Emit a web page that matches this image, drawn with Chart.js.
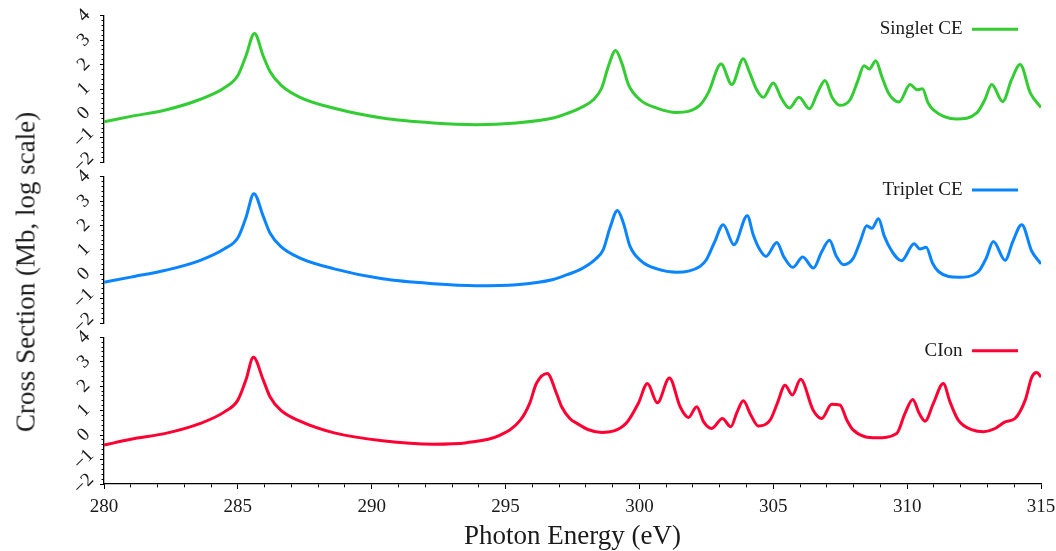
<!DOCTYPE html>
<html>
<head>
<meta charset="utf-8">
<script src="https://cdn.jsdelivr.net/npm/chart.js@4.4.1/dist/chart.umd.min.js"></script>
<style>
  html, body { margin: 0; padding: 0; background: #fff; }
  #wrap { position: relative; width: 1056px; height: 551px; }
  #wrap canvas { position: absolute; left: 0; top: 0; }
  #ytitle {
    position: absolute; left: 26px; top: 272px;
    transform: translate(-50%, -50%) rotate(-90deg);
    font: 27px 'Liberation Serif', serif; color: #1a1a1a; white-space: nowrap;
  }
</style>
</head>
<body>
<div id="wrap">
  <canvas id="singlet" width="1056" height="551"></canvas>
  <canvas id="triplet" width="1056" height="551"></canvas>
  <canvas id="cion" width="1056" height="551"></canvas>
  <div id="ytitle">Cross Section (Mb, log scale)</div>
</div>
<script>
// values (log10 of cross section)
const singletEnergy = [280.0, 281.0, 282.3, 283.6, 284.5, 285.0, 285.3, 285.62, 285.95, 286.2, 286.6, 287.3, 288.6, 290.4, 292.3, 293.9, 295.4, 296.78, 297.3, 297.78, 298.28, 298.59, 298.84, 299.11, 299.34, 299.59, 300.02, 300.65, 301.39, 302.26, 302.57, 303.05, 303.45, 303.88, 304.1, 304.38, 304.63, 305.0, 305.3, 305.6, 305.96, 306.35, 306.65, 306.93, 307.2, 307.49, 307.87, 308.15, 308.39, 308.59, 308.83, 309.05, 309.3, 309.7, 310.11, 310.38, 310.57, 310.78, 310.98, 311.85, 312.6, 312.9, 313.16, 313.57, 313.9, 314.22, 314.6, 315.0];
const singletValue = [-0.34, -0.12, 0.14, 0.58, 1.05, 1.55, 2.35, 3.27, 2.34, 1.72, 1.17, 0.67, 0.21, -0.19, -0.39, -0.46, -0.39, -0.19, 0.0, 0.22, 0.56, 1.04, 1.93, 2.58, 2.07, 1.18, 0.56, 0.22, 0.04, 0.34, 0.84, 2.02, 1.18, 2.24, 1.72, 0.97, 0.66, 1.25, 0.63, 0.22, 0.66, 0.19, 0.84, 1.35, 0.65, 0.33, 0.56, 1.31, 1.95, 1.82, 2.16, 1.52, 0.84, 0.47, 1.18, 0.97, 1.01, 0.44, 0.15, -0.23, 0.02, 0.56, 1.18, 0.49, 1.38, 2.00, 0.84, 0.24];

const tripletEnergy = [280.0, 281.0, 282.3, 283.6, 284.5, 285.0, 285.3, 285.6, 285.95, 286.2, 286.6, 287.3, 288.6, 290.4, 292.3, 293.9, 295.4, 296.78, 297.3, 297.78, 298.34, 298.65, 298.9, 299.18, 299.4, 299.65, 300.08, 300.65, 301.39, 302.26, 302.5, 302.8, 303.13, 303.53, 304.03, 304.25, 304.5, 304.73, 305.13, 305.4, 305.73, 306.1, 306.5, 306.8, 307.1, 307.35, 307.62, 307.99, 308.25, 308.49, 308.68, 308.93, 309.15, 309.42, 309.79, 310.26, 310.48, 310.71, 310.95, 311.17, 311.92, 312.66, 312.95, 313.22, 313.66, 313.95, 314.28, 314.65, 315.0];
const tripletValue = [-0.33, -0.12, 0.16, 0.57, 1.04, 1.49, 2.31, 3.30, 2.37, 1.69, 1.14, 0.67, 0.22, -0.19, -0.39, -0.47, -0.43, -0.22, -0.02, 0.19, 0.60, 1.01, 1.90, 2.61, 2.10, 1.14, 0.53, 0.22, 0.08, 0.32, 0.59, 1.30, 2.03, 1.21, 2.40, 1.62, 1.00, 0.73, 1.30, 0.70, 0.28, 0.70, 0.25, 0.90, 1.39, 0.75, 0.39, 0.66, 1.35, 1.99, 1.88, 2.27, 1.55, 0.96, 0.55, 1.25, 1.03, 1.10, 0.45, 0.11, -0.13, 0.11, 0.65, 1.34, 0.57, 1.35, 2.03, 0.95, 0.42];

const cionEnergy = [280.0, 281.0, 282.3, 283.6, 284.5, 285.0, 285.3, 285.58, 285.95, 286.2, 286.6, 287.3, 288.6, 290.4, 292.3, 293.55, 294.8, 295.55, 295.9, 296.15, 296.56, 296.9, 297.1, 297.4, 297.7, 298.1, 298.6, 299.5, 299.96, 300.3, 300.67, 301.12, 301.52, 301.83, 302.14, 302.4, 302.7, 303.1, 303.41, 303.65, 303.88, 304.16, 304.44, 304.88, 305.15, 305.44, 305.71, 306.02, 306.49, 306.81, 307.18, 307.49, 307.75, 307.99, 308.86, 309.61, 309.92, 310.21, 310.45, 310.67, 310.98, 311.35, 311.6, 311.91, 312.47, 312.85, 313.28, 313.66, 314.03, 314.41, 314.66, 314.84, 315.0];
const cionValue = [-0.41, -0.17, 0.07, 0.48, 0.95, 1.43, 2.25, 3.18, 2.25, 1.57, 1.02, 0.58, 0.09, -0.23, -0.37, -0.31, 0.00, 0.61, 1.30, 2.11, 2.52, 1.71, 1.15, 0.68, 0.46, 0.22, 0.11, 0.48, 1.30, 2.11, 1.32, 2.34, 1.16, 0.72, 1.16, 0.54, 0.27, 0.68, 0.34, 0.95, 1.40, 0.82, 0.37, 0.61, 1.30, 2.04, 1.64, 2.28, 1.02, 0.68, 1.26, 1.23, 0.61, 0.20, -0.11, 0.07, 0.89, 1.46, 0.89, 0.57, 1.30, 2.11, 1.36, 0.61, 0.20, 0.14, 0.27, 0.54, 0.68, 1.43, 2.38, 2.56, 2.38];

const yMin = -2, yMax = 4;
const xMin = 280, xMax = 315;

Chart.defaults.font.family = "'Liberation Serif', serif";
Chart.defaults.font.size = 19;
Chart.defaults.color = '#1a1a1a';

const isWhole = v => Math.abs(v - Math.round(v)) < 1e-6;
const minus = v => (v < 0 ? '\u2212' + (-v) : String(v));

// move the legend into the top right corner of each panel
const legendCorner = {
  id: 'legendCorner',
  afterLayout(chart) {
    const lg = chart.legend, a = chart.chartArea;
    const pad = lg.options.labels.padding;
    lg.left = a.left;
    lg.width = a.right - 23 + pad - a.left;
    lg.right = lg.left + lg.width;
    lg.top = a.top;
    lg.bottom = a.bottom;
    lg.height = a.bottom - a.top;
  }
};

function makePanel(id, label, energy, value, color, padTop, padBottom, showX) {
  const ctx = document.getElementById(id).getContext('2d');
  return new Chart(ctx, {
    type: 'line',
    data: {
      datasets: [{
        label: label,
        data: energy.map((e, i) => ({ x: e, y: value[i] })),
        borderColor: color,
        backgroundColor: color,
        borderWidth: 3,
        pointRadius: 0,
        cubicInterpolationMode: 'monotone',
        fill: false
      }]
    },
    options: {
      responsive: false,
      animation: false,
      events: [],
      layout: { padding: { left: 0, right: 15, top: padTop, bottom: padBottom } },
      plugins: {
        tooltip: { enabled: false },
        legend: {
          position: 'chartArea',
          align: 'start',
          rtl: true,
          textDirection: 'ltr',
          labels: { usePointStyle: true, pointStyle: 'line', pointStyleWidth: 46, padding: 4, font: { size: 19 } }
        }
      },
      scales: {
        x: {
          type: 'linear', min: xMin, max: xMax, display: showX,
          ticks: {
            stepSize: 1, autoSkip: false, minRotation: 0, maxRotation: 0, padding: 7,
            callback: v => (v % 5 === 0 ? String(v) : '')
          },
          grid: {
            drawOnChartArea: false, tickLength: 5, tickColor: '#000', tickWidth: 1,
            tickBorderDash: c => (c.tick && c.tick.value % 5 === 0 ? [] : [3, 10])
          },
          border: { color: '#000', width: 1.3 },
          title: { display: true, text: 'Photon Energy (eV)', font: { size: 27 }, padding: { top: 0, bottom: -2 } },
          afterFit: s => {
            if (!showX) return;
            s.height = 67; s.paddingLeft = 0; s.paddingRight = 0;
          }
        },
        y: {
          min: yMin, max: yMax,
          ticks: {
            stepSize: 0.2, autoSkip: false, minRotation: 45, maxRotation: 45,
            crossAlign: 'center', padding: 6,
            callback: v => (isWhole(v) ? minus(Math.round(v)) : '')
          },
          grid: {
            drawOnChartArea: false, tickLength: 4, tickColor: '#000', tickWidth: 1,
            tickBorderDash: c => (c.tick && isWhole(c.tick.value) ? [] : [2.5, 10]),
            tickBorderDashOffset: c => (c.tick && isWhole(c.tick.value) ? 0 : -1.5)
          },
          border: { color: '#000', width: 1.3 },
          afterFit: s => { s.width = 104; s.paddingTop = 0; s.paddingBottom = 0; }
        }
      }
    },
    plugins: [legendCorner]
  });
}

makePanel('singlet', 'Singlet CE', singletEnergy, singletValue, '#33cc33', 15.7, 388.7, false);
makePanel('triplet', 'Triplet CE', tripletEnergy, tripletValue, '#0a84ff', 176.6, 228, false);
makePanel('cion', 'CIon', cionEnergy, cionValue, '#ff0033', 337.3, 0, true);
</script>
</body>
</html>
